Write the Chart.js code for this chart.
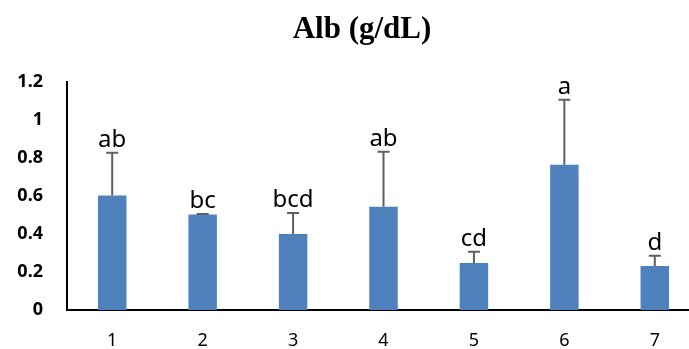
<!DOCTYPE html>
<html><head><meta charset="utf-8">
<script src="https://cdn.jsdelivr.net/npm/chart.js@4/dist/chart.umd.min.js"></script>
<style>
html,body{margin:0;padding:0;overflow:hidden;background:#fff;width:689px;height:349px}
#wrap{width:705px;height:349px}
</style>
</head><body>
<div id="wrap"><canvas id="c" width="705" height="349"></canvas></div>
<script>
const categories = ['1', '2', '3', '4', '5', '6', '7'];
const means = [0.603, 0.502, 0.40, 0.543, 0.248, 0.765, 0.231];
const errors = [0.225, 0.003, 0.111, 0.29, 0.059, 0.341, 0.054];
const letters = ['ab', 'bc', 'bcd', 'ab', 'cd', 'a', 'd'];
const yMin = 0, yMax = 1.2, yStep = 0.2;
const titleText = 'Alb (g/dL)';

const titlePlugin = {
  id: 'customTitle',
  afterDraw(chart) {
    const ctx = chart.ctx;
    ctx.save();
    ctx.fillStyle = '#000';
    ctx.font = 'bold 31px "Liberation Serif", "Times New Roman", serif';
    ctx.textAlign = 'center';
    ctx.textBaseline = 'alphabetic';
    ctx.fillText(titleText, 362, 38);
    ctx.restore();
  }
};

const errorBarPlugin = {
  id: 'errorBars',
  afterDatasetsDraw(chart) {
    const ctx = chart.ctx;
    const meta = chart.getDatasetMeta(0);
    const ys = chart.scales.y;
    ctx.save();
    meta.data.forEach((bar, i) => {
      const x = bar.x;
      const yTop = ys.getPixelForValue(means[i] + errors[i]);
      const yBase = ys.getPixelForValue(means[i]);
      ctx.strokeStyle = '#5f5f5f';
      ctx.lineWidth = 2;
      ctx.beginPath();
      ctx.moveTo(x, yBase);
      ctx.lineTo(x, yTop);
      ctx.moveTo(x - 6, yTop);
      ctx.lineTo(x + 6, yTop);
      ctx.stroke();
      ctx.fillStyle = '#000';
      ctx.font = '24px "Noto Sans"';
      ctx.textAlign = 'center';
      ctx.textBaseline = 'alphabetic';
      ctx.fillText(letters[i], x, yTop - 6);
    });
    ctx.restore();
  }
};

new Chart(document.getElementById('c'), {
  type: 'bar',
  data: {
    labels: categories,
    datasets: [{
      data: means,
      backgroundColor: '#4f81bd',
      borderWidth: 0,
      categoryPercentage: 1,
      barPercentage: 0.315
    }]
  },
  options: {
    responsive: false,
    animation: false,
    devicePixelRatio: 1,
    layout: { padding: { left: 0, right: 5, top: 82, bottom: 0 } },
    plugins: {
      legend: { display: false },
      tooltip: { enabled: false },
      title: { display: false }
    },
    scales: {
      x: {
        grid: { display: false, drawTicks: false },
        border: { display: true, color: '#000', width: 2 },
        ticks: { color: '#000', font: { family: '"Noto Sans"', size: 18 }, padding: 20 },
        afterFit(s) { s.height = 39; }
      },
      y: {
        min: yMin, max: yMax,
        grid: { display: false, drawTicks: false },
        border: { display: true, color: '#000', width: 2 },
        ticks: {
          stepSize: yStep, color: '#000',
          font: { family: '"Noto Sans"', size: 18, weight: 'bold' }, padding: 24,
          callback: (v) => String(Math.round(v * 10) / 10)
        },
        afterFit(s) { s.width = 67; }
      }
    }
  },
  plugins: [errorBarPlugin, titlePlugin]
});
</script>
</body></html>
